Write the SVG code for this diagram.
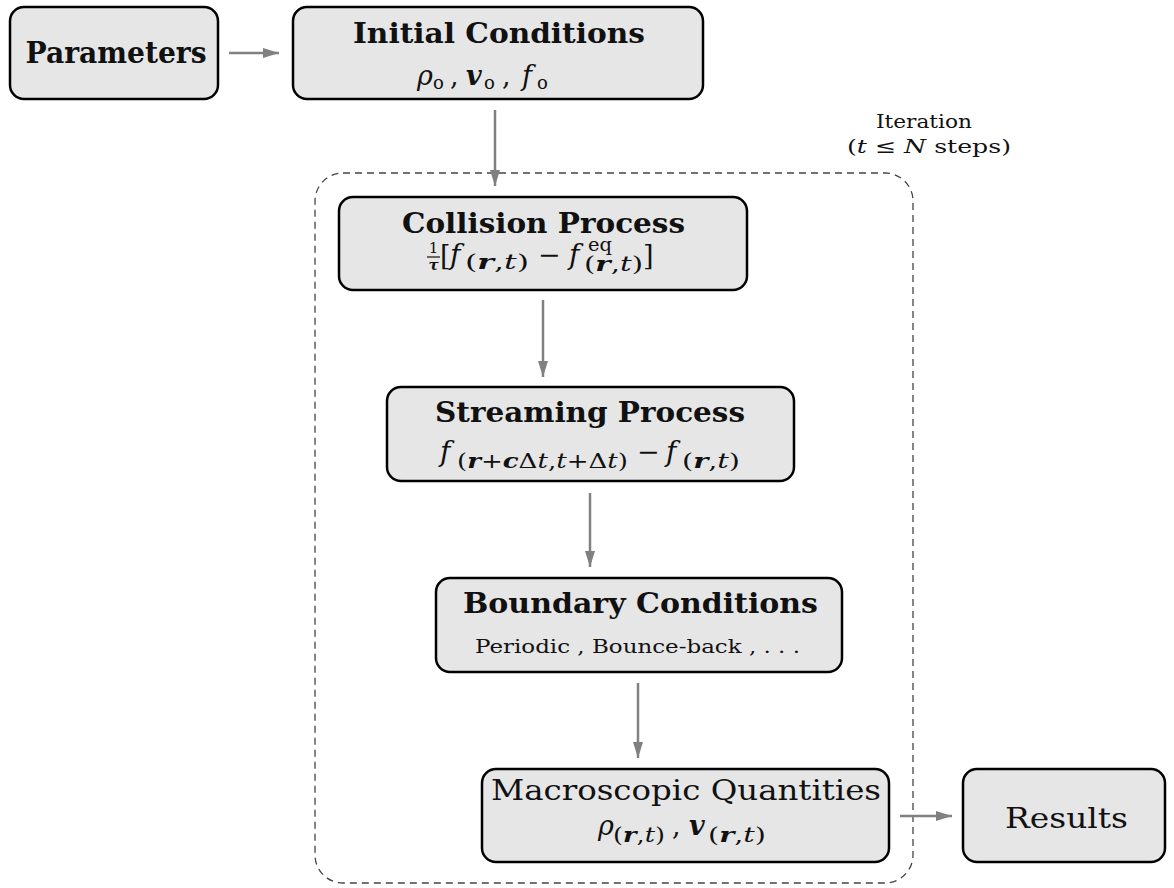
<svg xmlns="http://www.w3.org/2000/svg" width="1174" height="888" viewBox="0 0 1174 888">
<style>
text{font-family:"DejaVu Serif","Liberation Serif",serif;fill:#111}
.t{font-weight:bold;font-size:28px;text-anchor:middle}
.tr{font-size:28px;text-anchor:middle}
.box{fill:#e6e6e6;stroke:#000;stroke-width:2.5}
.m{font-style:italic;font-size:28px}
.mb{font-style:italic;font-weight:bold}
.mi{font-style:italic}
.s{font-size:20px}
.arr{stroke:#808080;stroke-width:2.5;fill:none;marker-end:url(#ah)}
.dash{fill:none;stroke:#444;stroke-width:1.3;stroke-dasharray:7 5}
</style>
<defs>
<marker id="ah" markerUnits="userSpaceOnUse" markerWidth="16" markerHeight="10" refX="16" refY="5" orient="auto">
<path d="M0,0 L16,5 L0,10 z" fill="#808080"/>
</marker>
</defs>
<g id="iteration">
<rect class="dash" x="315" y="173" width="598" height="710" rx="28"/>
<text x="924" y="128" font-size="19" text-anchor="middle" textLength="96" lengthAdjust="spacingAndGlyphs">Iteration</text>
<text x="929" y="153" font-size="19" text-anchor="middle" textLength="164" lengthAdjust="spacingAndGlyphs">(<tspan class="mi">t</tspan> ≤ <tspan class="mi">N</tspan> steps)</text>
</g>
<g id="connectors">
<line class="arr" x1="229" y1="53" x2="279" y2="53"/>
<line class="arr" x1="495" y1="110" x2="495" y2="186"/>
<line class="arr" x1="543" y1="300" x2="543" y2="377"/>
<line class="arr" x1="590" y1="493" x2="590" y2="567"/>
<line class="arr" x1="638" y1="683" x2="638" y2="758"/>
<line class="arr" x1="900" y1="816" x2="952" y2="816"/>
</g>
<g id="parameters">
<rect class="box" x="10" y="7" width="208" height="92" rx="14"/>
<text class="t" x="116" y="63" style="font-size:30px" textLength="181" lengthAdjust="spacingAndGlyphs">Parameters</text>
</g>
<g id="initial">
<rect class="box" x="293" y="7" width="410" height="92" rx="14"/>
<text class="t" x="499" y="43" textLength="292" lengthAdjust="spacingAndGlyphs">Initial Conditions</text>
<text class="m" x="417" y="85" style="font-size:27px">ρ</text>
<text x="433" y="89" font-size="18">o</text>
<text x="450" y="85" font-size="27">,</text>
<text class="mb" x="466" y="85" style="font-size:27px">v</text>
<text x="484" y="89" font-size="18">o</text>
<text x="502" y="85" font-size="27">,</text>
<text class="m" x="522" y="85" style="font-size:27px">f</text>
<text x="537" y="89" font-size="18">o</text>
</g>
<g id="collision">
<rect class="box" x="339" y="197" width="408" height="93" rx="14"/>
<text class="t" x="543.5" y="233" textLength="283" lengthAdjust="spacingAndGlyphs">Collision Process</text>
<text x="433.5" y="253" font-size="15" text-anchor="middle">1</text>
<line x1="427" y1="257" x2="440" y2="257" stroke="#111" stroke-width="1.2"/>
<text class="mb" x="433.5" y="270" text-anchor="middle" style="font-size:15px">τ</text>
<text x="440" y="265" font-size="27">[</text>
<text class="m" x="450" y="264">f</text>
<text class="s" x="465" y="269" textLength="64" lengthAdjust="spacingAndGlyphs">(<tspan class="mb">r</tspan>,<tspan class="mi">t</tspan>)</text>
<text x="538" y="264" font-size="27">−</text>
<text class="m" x="569" y="264">f</text>
<text x="588" y="251" font-size="18" textLength="24" lengthAdjust="spacingAndGlyphs">eq</text>
<text class="s" x="584" y="271" textLength="59" lengthAdjust="spacingAndGlyphs">(<tspan class="mb">r</tspan>,<tspan class="mi">t</tspan>)</text>
<text x="643" y="265" font-size="27">]</text>
</g>
<g id="streaming">
<rect class="box" x="387" y="387" width="407" height="94" rx="14"/>
<text class="t" x="590" y="422" textLength="310" lengthAdjust="spacingAndGlyphs">Streaming Process</text>
<text class="m" x="440" y="461">f</text>
<text class="s" x="457" y="468" textLength="171" lengthAdjust="spacingAndGlyphs">(<tspan class="mb">r</tspan>+<tspan class="mb">c</tspan>Δ<tspan class="mi">t</tspan>,<tspan class="mi">t</tspan>+Δ<tspan class="mi">t</tspan>)</text>
<text x="637" y="461" font-size="27">−</text>
<text class="m" x="666" y="461">f</text>
<text class="s" x="682" y="468" textLength="58" lengthAdjust="spacingAndGlyphs">(<tspan class="mb">r</tspan>,<tspan class="mi">t</tspan>)</text>
</g>
<g id="boundary">
<rect class="box" x="436" y="578" width="406" height="94" rx="14"/>
<text class="t" x="640.5" y="613" textLength="355" lengthAdjust="spacingAndGlyphs">Boundary Conditions</text>
<text x="637.5" y="653" font-size="18" text-anchor="middle" textLength="325" lengthAdjust="spacingAndGlyphs">Periodic , Bounce-back , . . .</text>
</g>
<g id="macroscopic">
<rect class="box" x="482" y="769" width="407" height="93" rx="14"/>
<text class="tr" x="686" y="800" textLength="390" lengthAdjust="spacingAndGlyphs">Macroscopic Quantities</text>
<text class="m" x="598" y="835" style="font-size:27px">ρ</text>
<text class="s" x="613" y="842" textLength="52" lengthAdjust="spacingAndGlyphs">(<tspan class="mb">r</tspan>,<tspan class="mi">t</tspan>)</text>
<text x="672" y="835" font-size="27">,</text>
<text class="mb" x="689" y="835" style="font-size:27px">v</text>
<text class="s" x="708" y="842" textLength="58" lengthAdjust="spacingAndGlyphs">(<tspan class="mb">r</tspan>,<tspan class="mi">t</tspan>)</text>
</g>
<g id="results">
<rect class="box" x="963" y="769" width="202" height="93" rx="14"/>
<text class="tr" x="1066.5" y="828" textLength="123" lengthAdjust="spacingAndGlyphs">Results</text>
</g>
</svg>
